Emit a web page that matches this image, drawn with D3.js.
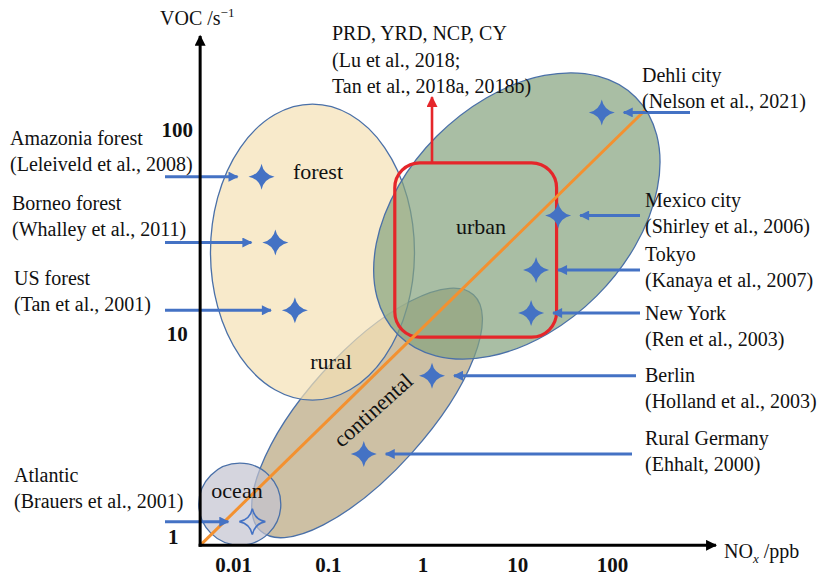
<!DOCTYPE html>
<html><head><meta charset="utf-8">
<script src="https://cdn.jsdelivr.net/npm/d3@7"></script>
<style>
html,body{margin:0;padding:0;background:#fff;}
svg{display:block;}
text{font-family:"Liberation Serif","Times New Roman",serif;fill:#111;}
</style></head>
<body>
<svg id="chart" width="822" height="578"></svg>
<script>
// ---------------- data ----------------
const xTicks = [0.01, 0.1, 1, 10, 100];
const yTicks = [1, 10, 100];

const siteNames = ["Amazonia forest", "Borneo forest", "US forest", "Atlantic",
  "Rural Germany", "Berlin", "New York", "Tokyo", "Mexico city", "Dehli city"];
const siteRefs = ["(Leleiveld et al., 2008)", "(Whalley et al., 2011)", "(Tan et al., 2001)",
  "(Brauers et al., 2001)", "(Ehhalt, 2000)", "(Holland et al., 2003)", "(Ren et al., 2003)",
  "(Kanaya et al., 2007)", "(Shirley et al., 2006)", "(Nelson et al., 2021)"];
const siteNOx = [0.020, 0.028, 0.045, 0.016, 0.24, 1.26, 14.0, 15.8, 27, 78];
const siteVOC = [59, 28, 13, 1.19, 2.56, 6.2, 12.6, 20.5, 38, 122];
const siteHollow = [false, false, false, true, false, false, false, false, false, false];

const regionNames = ["continental", "forest", "urban", "ocean"];
const regionNOx = [0.26, 0.069, 9.9, 0.0118];
const regionVOC = [4.07, 25.1, 37.8, 1.45];

const chinaLabel = ["PRD, YRD, NCP, CY", "(Lu et al., 2018;", "Tan et al., 2018a, 2018b)"];
const chinaNOx = [0.51, 26];
const chinaVOC = [9.6, 69];
const chinaArrowNOx = 1.26;
const chinaArrowVOC = [69, 145];

const ratioLineNOx = [0.0045, 223];
const ratioLineVOC = [0.91, 125];

const axisNOx = [0.0045, 1250];
const axisVOC = [0.91, 290];

// ---------------- layout / style ----------------
const W = 822, H = 578;
const x = d3.scaleLog().domain([0.01, 100]).range([233, 612]);
const y = d3.scaleLog().domain([1, 100]).range([537, 130]);

const regionStyle = {
  continental: {rx: 159, ry: 60, rot: -48, fill: "#b8a57e"},
  forest:      {rx: 102, ry: 148, rot: 0,  fill: "#f5e1b5"},
  urban:       {rx: 168, ry: 113, rot: -45, fill: "#84a27d"},
  ocean:       {rx: 41,  ry: 41,  rot: 0,  fill: "#c3c3d0"}
};
const regionLabelPos = {
  forest: [318, 179, 0], urban: [481, 234, 0], rural: [331, 369, 0],
  ocean: [237, 498, 0], continental: [373, 410, -42]
};
// label layout: [side, arrow start x, label x, label baseline]
const siteLayout = [
  ["L", 165, 10, 145], ["L", 165, 12, 210], ["L", 165, 14, 285], ["L", 165, 14, 482],
  ["R", 632, 645, 445], ["R", 636, 645, 382], ["R", 640, 645, 320], ["R", 640, 645, 261],
  ["R", 640, 645, 207], ["R", 690, 642, 82]
];

const BLUE = "#4472c4", RED = "#e5262a", ORANGE = "#f39130", EDGE = "#4a70a8";

const svg = d3.select("#chart");
const defs = svg.append("defs");
function marker(id, color, w, h) {
  defs.append("marker").attr("id", id).attr("viewBox", "0 0 10 10")
    .attr("refX", 9).attr("refY", 5).attr("markerUnits", "userSpaceOnUse")
    .attr("markerWidth", w).attr("markerHeight", h).attr("orient", "auto")
    .append("path").attr("d", "M0,0 L10,5 L0,10 Z").attr("fill", color);
}
marker("arrBlue", BLUE, 12, 10);
marker("arrRed", RED, 11, 11);
marker("arrBlack", "#000", 14, 11);

// ---------------- regions ----------------
regionNames.forEach(name => {
  const i = regionNames.indexOf(name), s = regionStyle[name];
  svg.append("ellipse")
    .attr("transform", `translate(${x(regionNOx[i])},${y(regionVOC[i])}) rotate(${s.rot})`)
    .attr("rx", s.rx).attr("ry", s.ry)
    .attr("fill", s.fill).attr("fill-opacity", 0.7)
    .attr("stroke", EDGE).attr("stroke-width", 1.3);
});

// ---------------- China box ----------------
svg.append("rect")
  .attr("x", x(chinaNOx[0])).attr("y", y(chinaVOC[1]))
  .attr("width", x(chinaNOx[1]) - x(chinaNOx[0]))
  .attr("height", y(chinaVOC[0]) - y(chinaVOC[1]))
  .attr("rx", 25).attr("ry", 25)
  .attr("fill", "none").attr("stroke", RED).attr("stroke-width", 3.2);
svg.append("line")
  .attr("x1", x(chinaArrowNOx)).attr("x2", x(chinaArrowNOx))
  .attr("y1", y(chinaArrowVOC[0])).attr("y2", y(chinaArrowVOC[1]))
  .attr("stroke", RED).attr("stroke-width", 2.6).attr("marker-end", "url(#arrRed)");

// ---------------- ratio line ----------------
svg.append("line")
  .attr("x1", x(ratioLineNOx[0])).attr("y1", y(ratioLineVOC[0]))
  .attr("x2", x(ratioLineNOx[1])).attr("y2", y(ratioLineVOC[1]))
  .attr("stroke", ORANGE).attr("stroke-width", 3);

// ---------------- region labels ----------------
Object.entries(regionLabelPos).forEach(([t, p]) => {
  svg.append("text").attr("transform", `translate(${p[0]},${p[1]}) rotate(${p[2]})`)
    .attr("text-anchor", "middle").attr("font-size", 22)
    .attr("dominant-baseline", p[2] ? "central" : "auto").text(t);
});

// ---------------- stars & arrows ----------------
const R = 13, c = 2.2;
const starPath = `M0,${-R} Q${c},${-c} ${R},0 Q${c},${c} 0,${R} Q${-c},${c} ${-R},0 Q${-c},${-c} 0,${-R} Z`;
siteNames.forEach((n, i) => {
  const px = x(siteNOx[i]), py = y(siteVOC[i]);
  svg.append("path").attr("d", starPath).attr("transform", `translate(${px},${py})`)
    .attr("fill", siteHollow[i] ? "none" : BLUE)
    .attr("stroke", siteHollow[i] ? BLUE : "none").attr("stroke-width", 1.6);
  const L = siteLayout[i];
  const tip = L[0] === "L" ? px - 24 : px + 22;
  svg.append("line").attr("x1", L[1]).attr("x2", tip).attr("y1", py).attr("y2", py)
    .attr("stroke", BLUE).attr("stroke-width", 3).attr("marker-end", "url(#arrBlue)");
  svg.append("text").attr("x", L[2]).attr("y", L[3]).attr("font-size", 20).text(n);
  svg.append("text").attr("x", L[2]).attr("y", L[3] + 26).attr("font-size", 20).text(siteRefs[i]);
});

chinaLabel.forEach((t, i) => {
  svg.append("text").attr("x", 332).attr("y", 40 + i * 26.5).attr("font-size", 20).text(t);
});

// ---------------- axes ----------------
const x0 = x(axisNOx[0]), y0 = y(axisVOC[0]);
svg.append("line").attr("x1", x0 - 1.5).attr("x2", x(axisNOx[1])).attr("y1", y0).attr("y2", y0)
  .attr("stroke", "#000").attr("stroke-width", 3).attr("marker-end", "url(#arrBlack)");
svg.append("line").attr("x1", x0).attr("x2", x0).attr("y1", y0 + 1.5).attr("y2", y(axisVOC[1]))
  .attr("stroke", "#000").attr("stroke-width", 3).attr("marker-end", "url(#arrBlack)");

const gx = svg.append("g").attr("transform", `translate(0,${y0})`)
  .call(d3.axisBottom(x).tickValues(xTicks).tickSize(0).tickPadding(12)
    .tickFormat(d => String(d)));
gx.select(".domain").remove();
gx.selectAll("text").attr("font-size", 21).attr("font-weight", "bold")
  .attr("font-family", "Liberation Serif, serif").attr("fill", "#111");

const gy = svg.append("g").attr("transform", `translate(${x0},0)`)
  .call(d3.axisLeft(y).tickValues(yTicks).tickSize(0).tickPadding(0)
    .tickFormat(d => String(d)));
gy.select(".domain").remove();
gy.selectAll("text").attr("font-size", 21).attr("font-weight", "bold")
  .attr("font-family", "Liberation Serif, serif").attr("fill", "#111")
  .attr("text-anchor", "middle").attr("x", d => d === 1 ? -27 : -23);

// axis titles
const vt = svg.append("text").attr("x", 160).attr("y", 25).attr("font-size", 20);
vt.append("tspan").text("VOC /s");
vt.append("tspan").attr("font-size", 13).attr("dy", -8).text("\u22121");

const nt = svg.append("text").attr("x", 724).attr("y", 558).attr("font-size", 20);
nt.append("tspan").text("NO");
nt.append("tspan").attr("font-size", 13).attr("font-style", "italic").attr("dy", 5).text("x");
nt.append("tspan").attr("dy", -5).text(" /ppb");
</script>
</body></html>
